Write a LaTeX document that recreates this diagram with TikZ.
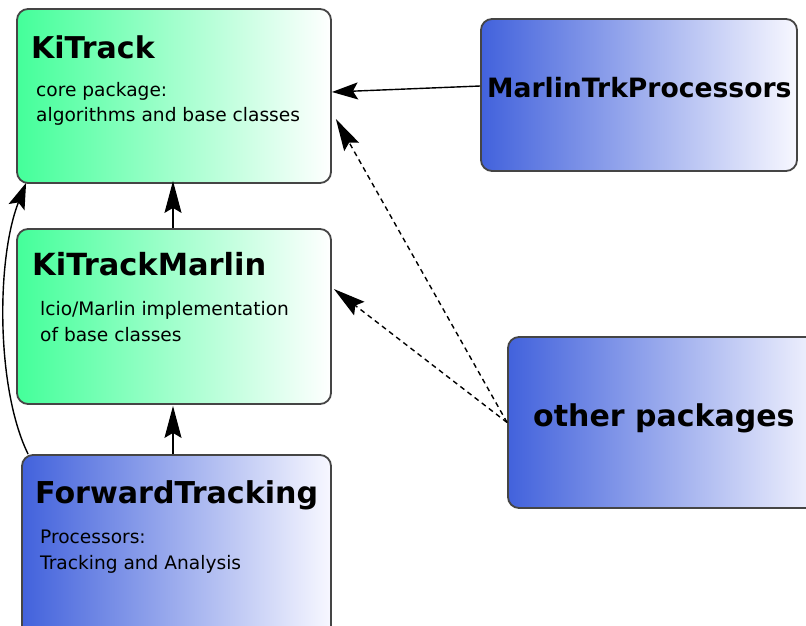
\documentclass[tikz,border=0pt]{standalone}
\usepackage{fontspec}
\setmainfont{DejaVu Sans}
\usetikzlibrary{arrows.meta,calc}
\definecolor{ktgreen}{HTML}{44FF9A}
\definecolor{pkblue}{HTML}{4262DC}
\definecolor{edgegray}{HTML}{454545}
\newcommand{\fs}[1]{\fontsize{#1}{#1}\selectfont}
\tikzset{
  pkbox/.style={draw=edgegray, line width=1.8pt, rounded corners=11pt, inner sep=0pt},
  greenbox/.style={pkbox, left color=ktgreen, right color=white},
  bluebox/.style={pkbox, left color=pkblue, right color=white!97!blue},
  titletext/.style={anchor=base west, inner sep=0pt, font=\bfseries},
  bodytext/.style={anchor=base west, inner sep=0pt, align=left, font=\fs{18.6}},
  arr/.style={line width=1.4pt, -{Stealth[length=32pt,width=17pt,inset=5pt]}},
  sarr/.style={line width=1.4pt, -{Stealth[length=26pt,width=17pt,inset=5pt]}},
  darr/.style={arr, dash pattern=on 5pt off 4pt},
}
\begin{document}
\begin{tikzpicture}[x=1pt,y=-1pt]
\useasboundingbox (0,0) rectangle (806,625);
\clip (0,0) rectangle (806,625);
% boxes
\node[greenbox, minimum width=314pt, minimum height=174pt] (kt) at (174,96) {};
\node[greenbox, minimum width=314pt, minimum height=175pt] (ktm) at (174,316.5) {};
\node[bluebox, minimum width=309pt, minimum height=200pt] (ft) at (176.5,555) {};
\node[bluebox, minimum width=316pt, minimum height=152pt] (mtp) at (639,95) {};
\node[bluebox, minimum width=320pt, minimum height=171pt] (op) at (668,422.5) {};
% texts
\node[titletext, font=\bfseries\fs{30}] (ktT) at (31,58) {KiTrack};
\node[bodytext] (ktB1) at (36,96) {core package:};
\node[bodytext] (ktB2) at (36,121) {algorithms and base classes};
\node[titletext, font=\bfseries\fs{30.5}] (ktmT) at (32,275) {KiTrackMarlin};
\node[bodytext] (ktmB1) at (40,315) {lcio/Marlin implementation};
\node[bodytext] (ktmB2) at (40,341) {of base classes};
\node[titletext, font=\bfseries\fs{30.1}] (ftT) at (35,503) {ForwardTracking};
\node[bodytext] (ftB1) at (40,543) {Processors:};
\node[bodytext] (ftB2) at (40,569) {Tracking and Analysis};
\node[titletext, font=\bfseries\fs{26.6}] (mtpT) at (487,97) {MarlinTrkProcessors};
\node[titletext, font=\bfseries\fs{30}] (opT) at (533,426) {other packages};
% connectors
\draw[sarr] ([yshift=9pt]mtp.west) -- ([xshift=0pt,yshift=4pt]kt.east);
\draw[darr] (op.west) -- ([xshift=4pt,yshift=-23pt]kt.east);
\draw[darr] (op.west) -- ([xshift=2pt,yshift=27.5pt]ktm.east);
\draw[arr] ([xshift=-1pt]ktm.north) -- ([xshift=-1pt,yshift=3pt]kt.south);
\draw[arr] ([xshift=-3.5pt]ft.north) -- ([xshift=-1pt,yshift=-1pt]ktm.south);
\draw[sarr] ([xshift=7pt]ft.north west) .. controls +(-32,-65) and +(-30,76) .. ([xshift=10pt,yshift=1pt]kt.south west);
\end{tikzpicture}
\end{document}
